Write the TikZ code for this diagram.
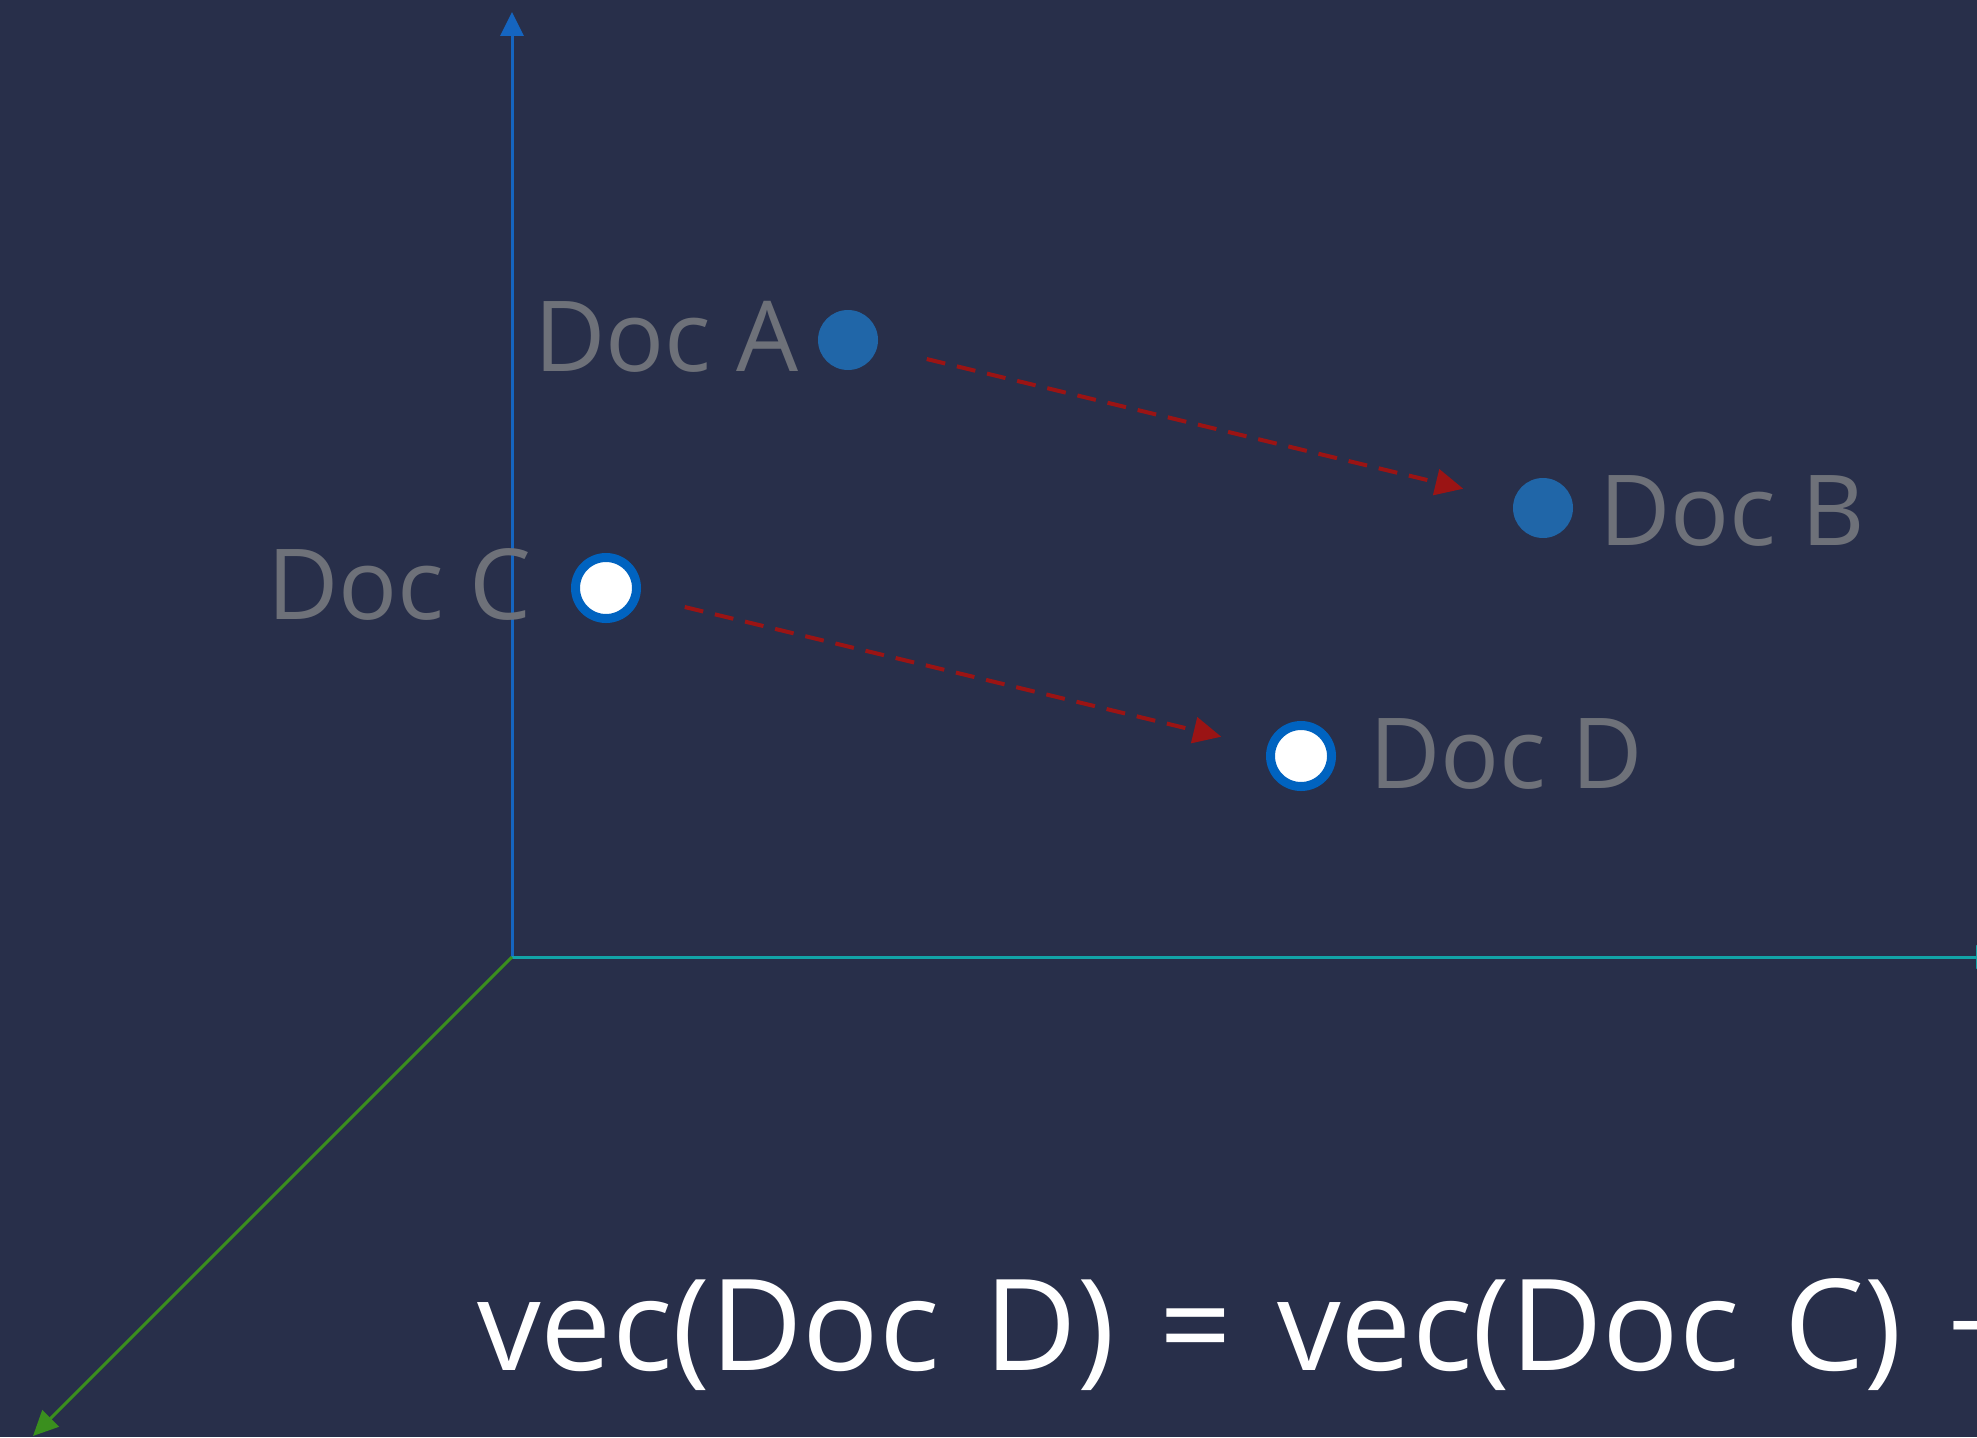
\documentclass[tikz,border=0pt]{standalone}
\usepackage{fontspec}
\setmainfont{Open Sans}
\newfontfamily\eqfont[WordSpace=1.36]{Open Sans}
\usetikzlibrary{arrows.meta}
\definecolor{bg}{HTML}{282F4A}
\definecolor{yaxis}{HTML}{1565C0}
\definecolor{xaxis}{HTML}{12A4A8}
\definecolor{zaxis}{HTML}{3A8F1E}
\definecolor{docfill}{HTML}{2066A8}
\definecolor{ringblue}{HTML}{0063C0}
\definecolor{labelgray}{HTML}{6E7179}
\definecolor{darrow}{HTML}{9B1414}
\begin{document}
\begin{tikzpicture}[x=1pt,y=-1pt,
  axis/.style={line width=3pt},
  filleddoc/.style={circle,fill=docfill,minimum size=60pt,inner sep=0pt},
  ringdoc/.style={circle,fill=white,draw=ringblue,line width=9pt,minimum size=61pt,inner sep=0pt},
  doclabel/.style={text=labelgray,font=\fontsize{98}{110}\selectfont,inner sep=0pt},
  shiftarrow/.style={darrow,line width=4pt,dash pattern=on 19pt off 12pt,
    -{Triangle[length=28pt,width=26pt]}}
]
\fill[bg] (0,0) rectangle (1977,1437);
\useasboundingbox (0,0) rectangle (1977,1437);
\clip (0,0) rectangle (1977,1437);
% axes
\coordinate (O) at (512,957);
\coordinate (ytip) at (512,12);
\coordinate (xtip) at (2000,957);
\coordinate (ztip) at (33,1436);
\draw[axis,yaxis,-{Triangle[length=24pt,width=23pt]}] (O) -- (ytip);
\draw[axis,xaxis,-{Triangle[length=24pt,width=23pt]}] (O) -- (xtip);
\draw[axis,zaxis,-{Triangle[length=25pt,width=23pt]}] (O) -- (ztip);
% docs
\node[filleddoc] (A) at (848,340) {};
\node[filleddoc] (B) at (1543,508) {};
\node[ringdoc] (C) at (606,588) {};
\node[ringdoc] (D) at (1301,756) {};
\node[doclabel,anchor=base east] (la) at (799,371) {Doc A};
\node[doclabel,anchor=base west] (lb) at (1599,545) {Doc B};
\node[doclabel,anchor=base east] (lc) at (532,619) {Doc C};
\node[doclabel,anchor=base west] (ld) at (1369,788) {Doc D};
% shifts
\draw[shiftarrow,shorten <=81pt,shorten >=82pt] (A.center) -- (B.center);
\draw[shiftarrow,shorten <=81pt,shorten >=82pt] (C.center) -- (D.center);
% equation
\node[anchor=base west,text=white,inner sep=0pt,font=\eqfont\fontsize{127}{140}\selectfont] (eq) at (477,1370) {vec(Doc D) = vec(Doc C) + vec(Doc B) − vec(Doc A)};
\end{tikzpicture}
\end{document}
